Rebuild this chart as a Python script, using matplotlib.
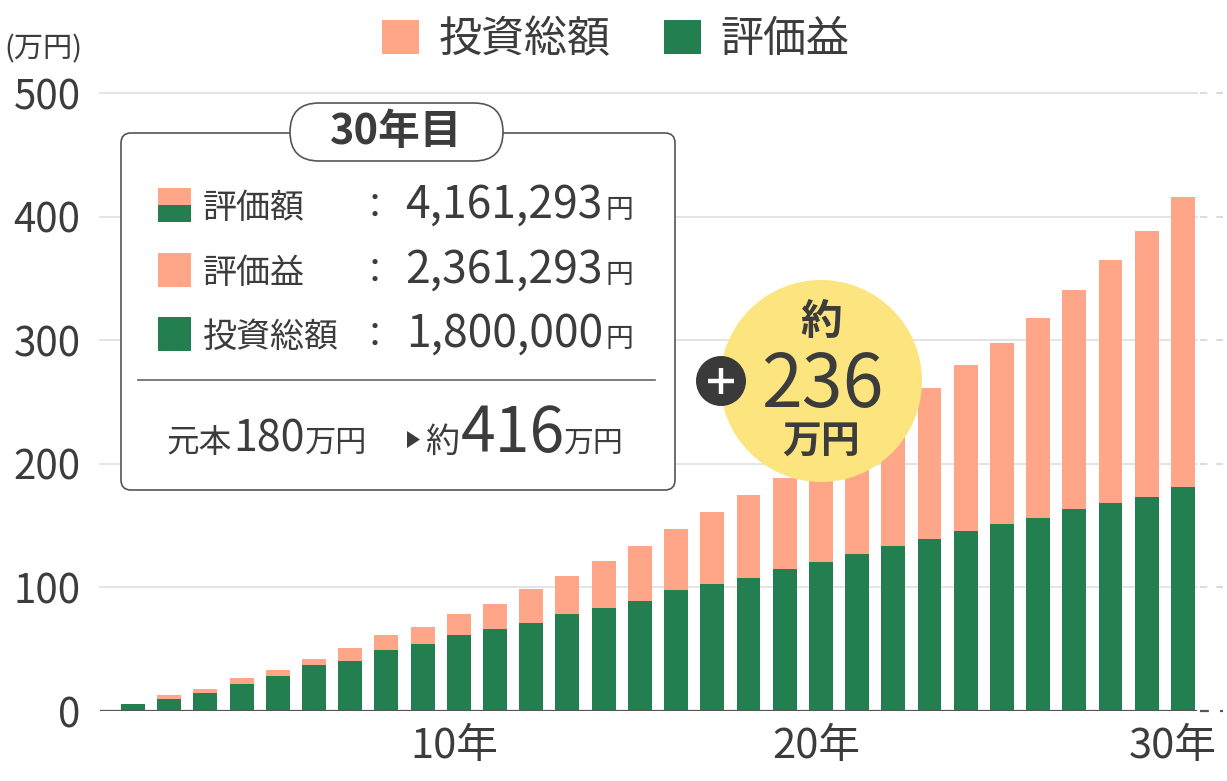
import numpy as np
import matplotlib
matplotlib.use('Agg')
import matplotlib.pyplot as plt
from matplotlib.patches import FancyBboxPatch, Circle, Rectangle, Polygon
from matplotlib.transforms import ScaledTranslation

plt.rcParams['font.family'] = ['Noto Sans CJK JP', 'DejaVu Sans']

# data (万円)
years = np.arange(1, 31)
green_part = [6, 9.5, 14.8, 21.6, 28.3, 37, 40.5, 49.1, 54.2, 61.2,
              66.1, 71.5, 78.2, 83.6, 88.8, 97.6, 102.6, 107.7, 114.9, 120.2,
              126.9, 133.6, 138.9, 145.9, 151.2, 156.2, 163.2, 168.2, 173.5, 181]
bar_total = [6, 12.9, 17.8, 26.7, 33.4, 42.1, 50.7, 61.2, 68.0, 78.2,
             86.8, 99.0, 109.2, 121.4, 133.4, 147.6, 161.2, 174.9, 188.8, 204,
             222, 241, 261.1, 280.1, 297.4, 318.0, 340.3, 364.6, 388.6, 416.1]
orange_part = np.array(bar_total) - np.array(green_part)

legend_labels = ['投資総額', '評価益']
yticks = [0, 100, 200, 300, 400, 500]
xticks = [10, 20, 30]
xtick_labels = ['10年', '20年', '30年']

rows = [('評価額', '4,161,293'), ('評価益', '2,361,293'), ('投資総額', '1,800,000')]

ORANGE = '#FFA688'
GREEN = '#237F50'
YELLOW = '#FCE47E'
TXT = '#3c3c3c'

W, H = 1227, 781
fig = plt.figure(figsize=(W / 100, H / 100), dpi=100)

# main axes: 0 at y=711px, 500 at y=93px, x from 100px to 1197px
ax = fig.add_axes([100 / W, (H - 711) / H, (1197 - 100) / W, (711 - 93) / H])
ax.set_xlim(0.088, 30.39)
ax.set_ylim(0, 500)

for v in yticks[1:]:
    ax.axhline(v, color='#e2e2e2', lw=1.3, zorder=0, clip_on=False)
    ax.plot([30.47, 31.1], [v, v], color='#d8d8d8', lw=1.3, ls=(0, (4, 5)),
            clip_on=False, zorder=0)
ax.axhline(0, color='#555555', lw=1.6, zorder=3)
ax.plot([30.47, 31.1], [0, 0], color='#555555', lw=1.6, ls=(0, (4, 5)),
        clip_on=False, zorder=3)

b_green = ax.bar(years, green_part, width=0.66, color=GREEN, zorder=2)
b_orange = ax.bar(years, orange_part, bottom=green_part, width=0.66,
                  color=ORANGE, zorder=2)

for s in ax.spines.values():
    s.set_visible(False)
ax.set_yticks(yticks)
ax.set_yticklabels([str(v) for v in yticks])
ax.set_xticks(xticks)
ax.set_xticklabels(xtick_labels)
ax.tick_params(axis='y', length=0, pad=14, labelsize=29, labelcolor=TXT)
ax.tick_params(axis='x', length=0, pad=11, labelsize=30, labelcolor=TXT)
for lbl, dx in zip(ax.get_xticklabels(), [-5, -5, -10]):
    lbl.set_transform(lbl.get_transform() + ScaledTranslation(dx / 100, 0, fig.dpi_scale_trans))

fig.legend([b_orange, b_green], legend_labels, loc='center',
           bbox_to_anchor=(616 / W, 1 - 40 / H), ncol=2, frameon=False,
           fontsize=31, handlelength=0.86, handleheight=0.86,
           handletextpad=0.45, columnspacing=1.25, labelcolor=TXT)

# overlay in pixel coordinates for the annotations
ov = fig.add_axes([0, 0, 1, 1], zorder=5)
ov.set_xlim(0, W)
ov.set_ylim(H, 0)
ov.axis('off')

ov.text(4, 49, '(万円)', fontsize=21, color=TXT, ha='left', va='center')

# info box
ov.add_patch(FancyBboxPatch((121, 133), 554, 357,
                            boxstyle='round,pad=0,rounding_size=10',
                            fc='white', ec='#555555', lw=1.2))
ov.add_patch(FancyBboxPatch((290, 103), 213, 58,
                            boxstyle='round,pad=0,rounding_size=29',
                            fc='white', ec='#555555', lw=1.2))
ov.text(396, 132, '30年目', fontsize=30, fontweight='bold', color=TXT,
        ha='center', va='center')

baselines = [218, 283, 347]
for (lab, val), base in zip(rows, baselines):
    cy = base - 13
    if lab == '評価額':
        ov.add_patch(Rectangle((158, cy - 17), 33, 17, fc=ORANGE, ec='none'))
        ov.add_patch(Rectangle((158, cy), 33, 17, fc=GREEN, ec='none'))
    elif lab == '評価益':
        ov.add_patch(Rectangle((158, cy - 17), 33, 34, fc=ORANGE, ec='none'))
    else:
        ov.add_patch(Rectangle((158, cy - 17), 33, 34, fc=GREEN, ec='none'))
    ov.text(203, base, lab, fontsize=24.5, color=TXT, ha='left', va='baseline')
    ov.text(375, base, '：', fontsize=24.5, color=TXT, ha='center', va='baseline')
    ov.text(603, base, val, fontsize=32, color=TXT, ha='right', va='baseline')
    ov.text(606, base, '円', fontsize=20, color=TXT, ha='left', va='baseline')

ov.plot([138, 655], [380, 380], color='#666666', lw=1.2)

bl = 452
ov.text(166, bl, '元本', fontsize=23.5, color=TXT, ha='left', va='baseline')
ov.text(233, bl, '180', fontsize=31, color=TXT, ha='left', va='baseline')
ov.text(305, bl, '万円', fontsize=22.5, color=TXT, ha='left', va='baseline')
ov.add_patch(Polygon([(407, 431), (407, 448), (420, 439.5)], fc=TXT, ec='none'))
ov.text(425, bl, '約', fontsize=24.5, color=TXT, ha='left', va='baseline')
ov.text(461, bl, '416', fontsize=45, color=TXT, ha='left', va='baseline')
ov.text(564, bl, '万円', fontsize=21.5, color=TXT, ha='left', va='baseline')

# yellow badge
ov.add_patch(Circle((821, 381), 101, fc=YELLOW, ec='none'))
ov.text(821, 322, '約', fontsize=30, fontweight='bold', color=TXT,
        ha='center', va='center')
ov.text(822, 407, '236', fontsize=53, color=TXT, ha='center', va='baseline')
ov.text(821, 441, '万円', fontsize=28, fontweight='bold', color=TXT,
        ha='center', va='center')
ov.add_patch(Circle((721, 381), 25, fc='#3a3a3a', ec='none'))
ov.plot([708, 734], [381, 381], color='white', lw=3.2, solid_capstyle='butt')
ov.plot([721, 721], [368, 394], color='white', lw=3.2, solid_capstyle='butt')

fig.savefig('out.png', dpi=100)
